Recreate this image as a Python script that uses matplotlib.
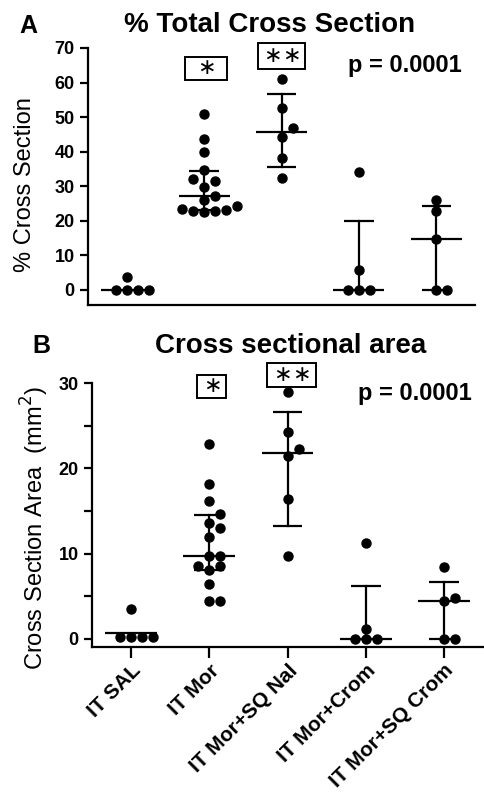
import numpy as np
import matplotlib.pyplot as plt
from matplotlib.patches import Rectangle

plt.rcParams['font.family'] = ['Liberation Sans', 'DejaVu Sans']

W, H = 484, 796

groups = ['IT SAL', 'IT Mor', 'IT Mor+SQ Nal', 'IT Mor+Crom', 'IT Mor+SQ Crom']

# panel A: % total cross section
pct_sal = [3.6, 0, 0, 0, 0]
pct_mor = [51.0, 43.6, 39.8, 34.6, 32.1, 31.4, 29.7, 27.2, 26.0, 24.3, 23.3, 23.0, 22.8, 22.7, 22.5]
pct_nal = [61.0, 52.5, 46.8, 44.2, 38.1, 32.3]
pct_crom = [34.0, 5.8, 0, 0, 0]
pct_sqcrom = [26.0, 22.8, 14.6, 0, 0]
pct_median = [0, 27.2, 45.8, 0, 14.6]
pct_low = [0, 23.0, 35.5, 0, 0]
pct_high = [0, 34.5, 56.6, 20.0, 24.4]

# panel B: cross sectional area (mm2)
area_sal = [3.5, 0.2, 0.2, 0.2, 0.2]
area_mor = [22.8, 18.2, 16.2, 14.6, 13.6, 13.0, 12.0, 9.7, 9.7, 8.5, 8.5, 8.1, 6.5, 4.4, 4.4]
area_nal = [29.0, 24.3, 22.3, 21.4, 16.4, 9.7]
area_crom = [11.3, 1.2, 0, 0, 0]
area_sqcrom = [8.4, 4.8, 4.4, 0, 0]
area_median = [0.7, 9.7, 21.8, 0, 4.5]
area_low = [0.7, 8.1, 13.2, 0, 0]
area_high = [0.7, 14.5, 26.6, 6.2, 6.7]


def swarm_x(ax, xc, values, step=11, gap=9):
    """Column beeswarm: spread points that would overlap in pixel space."""
    vals = np.asarray(values, dtype=float)
    pts = ax.transData.transform(np.column_stack([np.full(len(vals), xc), vals]))
    px_per_x = ax.transData.transform([[1, 0]])[0, 0] - ax.transData.transform([[0, 0]])[0, 0]
    placed = []
    cols = np.zeros(len(vals))
    for i in np.argsort(vals, kind='stable'):
        y = pts[i, 1]
        for k in [0, 1, -1, 2, -2, 3, -3]:
            if all(k != kk or abs(y - yy) >= gap for kk, yy in placed):
                break
        placed.append((k, y))
        cols[i] = k
    return xc + cols * step / px_per_x


def draw_panel(ax, series, med, lo, hi):
    for i, vals in enumerate(series):
        xs = swarm_x(ax, i, vals)
        ax.plot(xs, vals, 'o', color='black', ms=6.5, clip_on=False, zorder=3)
        ax.plot([i, i], [lo[i], hi[i]], color='black', lw=1.6, zorder=4)
        if hi[i] > lo[i]:
            ax.hlines([lo[i], hi[i]], i - 0.19, i + 0.19, color='black', lw=1.6, zorder=4)
        ax.hlines(med[i], i - 0.33, i + 0.33, color='black', lw=1.6, zorder=4)


def style_axes(ax):
    for s in ['top', 'right']:
        ax.spines[s].set_visible(False)
    for s in ['left', 'bottom']:
        ax.spines[s].set_linewidth(1.6)
    ax.set_xlim(-0.5, 4.5)
    ax.tick_params(axis='y', width=1.6, length=6, labelsize=13)
    ax.tick_params(axis='y', which='minor', width=1.6, length=6)


def star_box(fig, x0, y0, x1, y1, text):
    fig.patches.append(Rectangle((x0 / W, 1 - y1 / H), (x1 - x0) / W, (y1 - y0) / H,
                                 transform=fig.transFigure, fill=False, ec='black', lw=1.4))
    fig.text((x0 + x1) / 2 / W, 1 - (y0 + y1) / 2 / H, text, ha='center', va='center',
             fontsize=16)


fig = plt.figure(figsize=(W / 100, H / 100), dpi=100)

# ---- panel A
axA = fig.add_axes([88 / W, 1 - 305 / H, (475 - 88) / W, (305 - 48) / H])
style_axes(axA)
axA.set_ylim(-4.4, 70)
axA.set_yticks(np.arange(0, 71, 10))
axA.set_xticks([])
for lab in axA.get_yticklabels():
    lab.set_fontweight('bold')
draw_panel(axA, [pct_sal, pct_mor, pct_nal, pct_crom, pct_sqcrom], pct_median, pct_low, pct_high)
axA.set_ylabel('% Cross Section', fontsize=17)
axA.yaxis.set_label_coords(-0.135, 0.47)

# ---- panel B
axB = fig.add_axes([92 / W, 1 - 647 / H, (483 - 92) / W, (647 - 383) / H])
style_axes(axB)
axB.set_ylim(-0.94, 30)
axB.set_yticks([0, 10, 20, 30])
axB.set_yticks([5, 15, 25], minor=True)
axB.set_xticks(range(len(groups)))
axB.set_xticklabels(groups, rotation=45, ha='right', rotation_mode='anchor',
                    fontsize=15, fontweight='bold')
axB.tick_params(axis='x', width=1.6, length=8, pad=2)
for lab in axB.get_yticklabels():
    lab.set_fontweight('bold')
draw_panel(axB, [area_sal, area_mor, area_nal, area_crom, area_sqcrom], area_median, area_low, area_high)
axB.set_ylabel('Cross Section Area  (mm$^2$)', fontsize=17)
axB.yaxis.set_label_coords(-0.105, 0.45)

# ---- titles, panel letters, p values
fig.text(270 / W, 1 - 32 / H, '% Total Cross Section', ha='center', va='baseline',
         fontsize=20, fontweight='bold')
fig.text(291 / W, 1 - 353 / H, 'Cross sectional area', ha='center', va='baseline',
         fontsize=20, fontweight='bold')
fig.text(28 / W, 1 - 33 / H, 'A', ha='center', va='baseline', fontsize=18, fontweight='bold')
fig.text(41 / W, 1 - 353 / H, 'B', ha='center', va='baseline', fontsize=18, fontweight='bold')
fig.text(348 / W, 1 - 72 / H, 'p = 0.0001', ha='left', va='baseline', fontsize=17, fontweight='bold')
fig.text(358 / W, 1 - 400 / H, 'p = 0.0001', ha='left', va='baseline', fontsize=17, fontweight='bold')

star_box(fig, 185, 57, 227, 80, r'$\ast$')
star_box(fig, 258, 43, 305, 69, r'$\ast\!\ast$')
star_box(fig, 197, 375, 226, 398, r'$\ast$')
star_box(fig, 267, 363, 316, 387, r'$\ast\!\ast$')

fig.savefig('out.png', dpi=100)
